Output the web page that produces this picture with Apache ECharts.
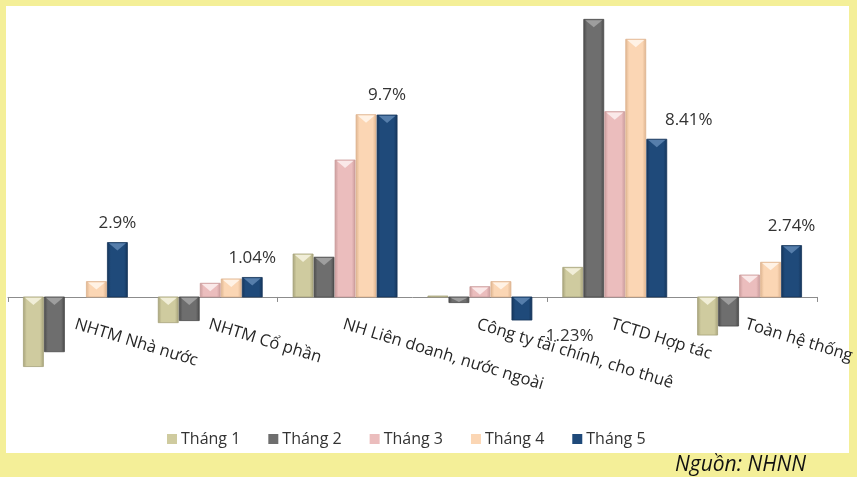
<!DOCTYPE html>
<html>
<head>
<meta charset="utf-8">
<script src="https://cdn.jsdelivr.net/npm/echarts@6/dist/echarts.min.js"></script>
<style>
  html, body { margin: 0; padding: 0; background: #F4EF98; }
  #chart { width: 857px; height: 477px; }
</style>
</head>
<body>
<div id="chart"></div>
<script>
// Credit growth by group of credit institutions, month by month (%)
const categories = [
  'NHTM Nhà nước',
  'NHTM Cổ phần',
  'NH Liên doanh, nước ngoài',
  'Công ty tài chính, cho thuê',
  'TCTD Hợp tác',
  'Toàn hệ thống'
];
const seriesNames = ['Tháng 1', 'Tháng 2', 'Tháng 3', 'Tháng 4', 'Tháng 5'];

const thang1 = [-3.71, -1.37, 2.29, 0.05, 1.58, -2.03];
const thang2 = [-2.92, -1.26, 2.12, -0.30, 14.80, -1.55];
const thang3 = [0.00, 0.73, 7.30, 0.55, 9.88, 1.17];
const thang4 = [0.82, 0.96, 9.72, 0.82, 13.74, 1.85];
const thang5 = [2.90, 1.04, 9.70, -1.23, 8.41, 2.74];

const allSeries = [thang1, thang2, thang3, thang4, thang5];

const Y_MIN = -4;
const Y_MAX = 15;

// Fill colours per month: base, edge (darker), bevel highlight
const palette = [
  { base: '#CFCB9F', edge: '#A6A27A', hi: '#F4F2DE' },
  { base: '#6E6E6E', edge: '#4A4A4A', hi: '#A3A3A3' },
  { base: '#EBBDBD', edge: '#C99A9A', hi: '#FCEDED' },
  { base: '#FBD6B4', edge: '#DDB38E', hi: '#FFF5EA' },
  { base: '#1F4A7A', edge: '#15355A', hi: '#5C84B0' }
];

// Horizontal nudge of the value labels (px) for crowded categories
const labelShiftX = { 3: 45, 4: 32 };

const BAR_W = 20;
const BAR_GAP = 1;

// Plot area: the lower grid holds the bars; the upper one ends exactly at the
// zero line and only carries the category labels.
const PLOT_TOP = 15.6;
const PLOT_H = 356.4;
const ZERO_H = PLOT_H * Y_MAX / (Y_MAX - Y_MIN);

function makeRenderer(s) {
  return function (params, api) {
    const ci = api.value(0);
    const v = api.value(1);
    const p0 = api.coord([ci, 0]);
    const p1 = api.coord([ci, v]);
    const groupW = 5 * BAR_W + 4 * BAR_GAP;
    const x = p0[0] - groupW / 2 + s * (BAR_W + BAR_GAP);
    const top = Math.min(p0[1], p1[1]);
    const h = Math.abs(p1[1] - p0[1]);
    const c = palette[s];
    const children = [];
    if (h > 0.3) {
      children.push({
        type: 'rect',
        shape: { x: x, y: top, width: BAR_W, height: h },
        style: {
          fill: new echarts.graphic.LinearGradient(0, 0, 1, 0, [
            { offset: 0, color: c.edge },
            { offset: 0.18, color: c.base },
            { offset: 0.82, color: c.base },
            { offset: 1, color: c.edge }
          ]),
          stroke: c.edge,
          lineWidth: 0.8
        }
      });
      const th = Math.min(8, h - 0.5);
      if (th > 1) {
        children.push({
          type: 'polygon',
          shape: { points: [[x + 1.5, top + 0.8], [x + BAR_W - 1.5, top + 0.8], [x + BAR_W / 2, top + th]] },
          style: { fill: c.hi, opacity: 0.9 }
        });
      }
    }
    if (s === 4) {
      const dx = labelShiftX[ci] || 0;
      const pos = v >= 0;
      children.push({
        type: 'text',
        style: {
          text: String(v) + '%',
          x: x + BAR_W / 2 + dx,
          y: pos ? p1[1] - 11 : p1[1] + 8,
          align: 'center',
          verticalAlign: pos ? 'bottom' : 'top',
          fontFamily: 'Open Sans',
          fontSize: 17,
          fill: '#333333'
        },
        z2: 10
      });
    }
    return { type: 'group', children: children };
  };
}

const series = allSeries.map((vals, s) => ({
  name: seriesNames[s],
  type: 'custom',
  xAxisIndex: 0,
  yAxisIndex: 0,
  renderItem: makeRenderer(s),
  encode: { x: 0, y: 1 },
  itemStyle: { color: palette[s].base },
  data: vals.map((v, i) => [i, v]),
  z: 2
}));

const chart = echarts.init(document.getElementById('chart'), null, { renderer: 'canvas' });
chart.setOption({
  backgroundColor: '#F4EF98',
  animation: false,
  graphic: [
    { type: 'rect', shape: { x: 6, y: 6, width: 843, height: 447 }, style: { fill: '#FFFFFF' }, z: -10 },
    {
      type: 'text',
      style: {
        text: 'Nguồn: NHNN',
        x: 806, y: 465,
        align: 'right', verticalAlign: 'middle',
        fontFamily: 'Open Sans', fontStyle: 'italic', fontSize: 21,
        fill: '#111111'
      }
    }
  ],
  grid: [
    { left: 8, right: 40, top: PLOT_TOP, height: PLOT_H },
    { left: 8, right: 40, top: PLOT_TOP, height: ZERO_H }
  ],
  legend: {
    data: seriesNames,
    left: 162,
    top: 426,
    icon: 'rect',
    itemWidth: 10,
    itemHeight: 10,
    itemGap: 28,
    textStyle: { fontFamily: 'Open Sans', fontSize: 16, color: '#333333', padding: [0, 0, 0, -1] }
  },
  xAxis: [
    {
      type: 'category',
      gridIndex: 0,
      data: categories,
      axisLine: { show: true, onZero: true, lineStyle: { color: '#8C8C8C', width: 1 } },
      axisTick: { show: true, length: 5, lineStyle: { color: '#8C8C8C' } },
      axisLabel: { show: false },
      splitLine: { show: false }
    },
    {
      type: 'category',
      gridIndex: 1,
      data: categories,
      axisLine: { show: false, onZero: false },
      axisTick: { show: false },
      axisLabel: {
        interval: 0,
        rotate: -17,
        margin: 27,
        fontFamily: 'Open Sans',
        fontSize: 16.5,
        color: '#262626'
      },
      splitLine: { show: false }
    }
  ],
  yAxis: [
    { type: 'value', gridIndex: 0, min: Y_MIN, max: Y_MAX, show: false, splitLine: { show: false } },
    { type: 'value', gridIndex: 1, min: 0, max: 1, show: false, splitLine: { show: false } }
  ],
  series: series
});
</script>
</body>
</html>
